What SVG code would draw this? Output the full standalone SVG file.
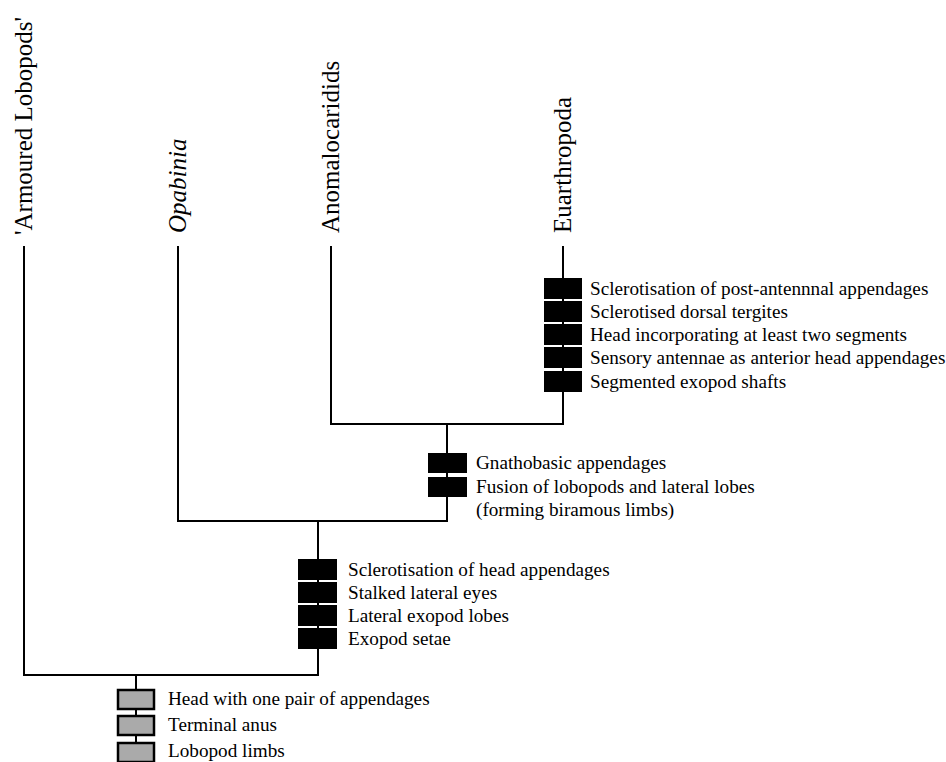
<svg xmlns="http://www.w3.org/2000/svg" width="946" height="762" viewBox="0 0 946 762">
<style>
.ln{stroke:#000;stroke-width:2;fill:none;stroke-linecap:square}
.bk{fill:#000}
.gr{fill:#aaaaaa;stroke:#000;stroke-width:2.5}
.tx{font-family:"Liberation Serif","Times New Roman",serif;font-size:19.2px;fill:#000}
.lb{font-family:"Liberation Serif","Times New Roman",serif;font-size:25px;fill:#000}
</style>
<rect width="946" height="762" fill="#fff"/>
<g id="connectors">
<path class="ln" d="M24 247V675M178 247V521M331 247V424M563 247V424M331 424H563M447 424V521M178 521H447M318 521V675M24 675H318M136 675V762"/>
</g>
<g id="taxon-armoured">
<text class="lb" transform="translate(32,235) rotate(-90)">'Armoured Lobopods'</text>
</g>
<g id="taxon-opabinia">
<text class="lb" font-style="italic" transform="translate(186,233) rotate(-90)">Opabinia</text>
</g>
<g id="taxon-anomalocaridids">
<text class="lb" transform="translate(339,233) rotate(-90)">Anomalocaridids</text>
</g>
<g id="taxon-euarthropoda">
<text class="lb" transform="translate(571,233) rotate(-90)">Euarthropoda</text>
</g>
<g id="chars-euarthropoda">
<rect class="bk" x="544" y="278" width="38" height="21"/>
<rect class="bk" x="544" y="301" width="38" height="21"/>
<rect class="bk" x="544" y="324" width="38" height="21"/>
<rect class="bk" x="544" y="347" width="38" height="21"/>
<rect class="bk" x="544" y="371" width="38" height="21"/>
<text class="tx" x="590" y="295">Sclerotisation of post-antennnal appendages</text>
<text class="tx" x="590" y="318">Sclerotised dorsal tergites</text>
<text class="tx" x="590" y="341">Head incorporating at least two segments</text>
<text class="tx" x="590" y="364">Sensory antennae as anterior head appendages</text>
<text class="tx" x="590" y="388">Segmented exopod shafts</text>
</g>
<g id="chars-node2">
<rect class="bk" x="428" y="453" width="39" height="20"/>
<rect class="bk" x="428" y="477" width="39" height="20"/>
<text class="tx" x="476" y="469">Gnathobasic appendages</text>
<text class="tx" x="476" y="493">Fusion of lobopods and lateral lobes</text>
<text class="tx" x="476" y="516">(forming biramous limbs)</text>
</g>
<g id="chars-node1">
<rect class="bk" x="298" y="559" width="39" height="21"/>
<rect class="bk" x="298" y="582" width="39" height="21"/>
<rect class="bk" x="298" y="605" width="39" height="21"/>
<rect class="bk" x="298" y="628" width="39" height="21"/>
<text class="tx" x="348" y="576">Sclerotisation of head appendages</text>
<text class="tx" x="348" y="599">Stalked lateral eyes</text>
<text class="tx" x="348" y="622">Lateral exopod lobes</text>
<text class="tx" x="348" y="645">Exopod setae</text>
</g>
<g id="chars-root">
<rect class="gr" x="118" y="690" width="36" height="19"/>
<rect class="gr" x="118" y="716" width="36" height="19"/>
<rect class="gr" x="118" y="743" width="36" height="19"/>
<text class="tx" x="168" y="705">Head with one pair of appendages</text>
<text class="tx" x="168" y="731">Terminal anus</text>
<text class="tx" x="168" y="757">Lobopod limbs</text>
</g>
</svg>
